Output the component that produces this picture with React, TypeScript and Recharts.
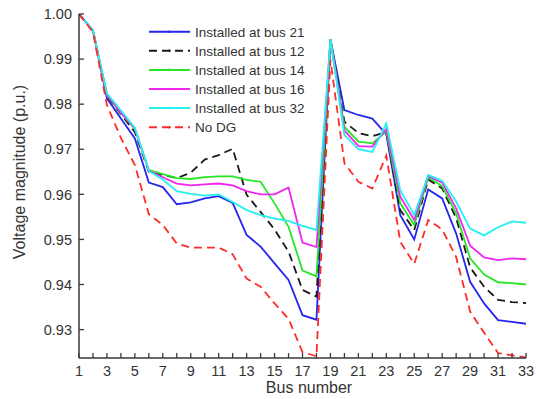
import React from 'react';
import { LineChart, Line, XAxis, YAxis, Legend } from 'recharts';

const buses = [1, 2, 3, 4, 5, 6, 7, 8, 9, 10, 11, 12, 13, 14, 15, 16, 17, 18, 19, 20, 21, 22, 23, 24, 25, 26, 27, 28, 29, 30, 31, 32, 33];

const bus21 = [1.0, 0.9963, 0.9813, 0.9768, 0.9724, 0.9626, 0.9616, 0.9578, 0.9582, 0.9591, 0.9596, 0.9581, 0.9510, 0.9484, 0.9447, 0.9410, 0.9332, 0.9322, 0.9944, 0.9787, 0.9776, 0.9768, 0.9733, 0.9554, 0.9500, 0.9611, 0.9591, 0.9513, 0.9406, 0.9358, 0.9321, 0.9317, 0.9313];
const bus12 = [1.0, 0.9963, 0.9818, 0.9778, 0.9738, 0.9650, 0.9643, 0.9636, 0.9648, 0.9677, 0.9687, 0.9701, 0.9599, 0.9561, 0.9522, 0.9473, 0.9388, 0.9373, 0.9944, 0.9761, 0.9736, 0.9729, 0.9738, 0.9565, 0.9521, 0.9633, 0.9613, 0.9547, 0.9438, 0.9395, 0.9366, 0.9361, 0.9359];
const bus14 = [1.0, 0.9963, 0.9820, 0.9780, 0.9745, 0.9654, 0.9645, 0.9636, 0.9634, 0.9638, 0.9640, 0.9640, 0.9632, 0.9628, 0.9580, 0.9528, 0.9431, 0.9418, 0.9944, 0.9750, 0.9717, 0.9713, 0.9740, 0.9580, 0.9532, 0.9638, 0.9618, 0.9558, 0.9458, 0.9422, 0.9405, 0.9403, 0.9400];
const bus16 = [1.0, 0.9963, 0.9821, 0.9781, 0.9746, 0.9652, 0.9638, 0.9624, 0.9620, 0.9622, 0.9624, 0.9620, 0.9607, 0.9600, 0.9600, 0.9615, 0.9493, 0.9483, 0.9944, 0.9742, 0.9707, 0.9706, 0.9745, 0.9595, 0.9543, 0.9641, 0.9626, 0.9569, 0.9486, 0.9460, 0.9454, 0.9458, 0.9456];
const bus32 = [1.0, 0.9964, 0.9824, 0.9786, 0.9748, 0.9652, 0.9633, 0.9607, 0.9601, 0.9597, 0.9600, 0.9583, 0.9565, 0.9554, 0.9546, 0.9541, 0.9530, 0.9521, 0.9944, 0.9732, 0.9700, 0.9694, 0.9757, 0.9609, 0.9554, 0.9643, 0.9630, 0.9584, 0.9524, 0.9509, 0.9527, 0.9540, 0.9537];
const noDG = [1.0, 0.9960, 0.9798, 0.9725, 0.9665, 0.9556, 0.9532, 0.9491, 0.9482, 0.9482, 0.9482, 0.9467, 0.9413, 0.9395, 0.9358, 0.9324, 0.9250, 0.9241, 0.9898, 0.9669, 0.9628, 0.9613, 0.9686, 0.9495, 0.9446, 0.9543, 0.9522, 0.9461, 0.9340, 0.9293, 0.9248, 0.9243, 0.9238];

const yTicks = [0.93, 0.94, 0.95, 0.96, 0.97, 0.98, 0.99, 1.0];
const xTickLabels = [1, 3, 5, 7, 9, 11, 13, 15, 17, 19, 21, 23, 25, 27, 29, 31, 33];

const seriesNames = ['Installed at bus 21', 'Installed at bus 12', 'Installed at bus 14', 'Installed at bus 16', 'Installed at bus 32', 'No DG'];

const data = buses.map((b, i) => ({
  bus: b,
  s21: bus21[i],
  s12: bus12[i],
  s14: bus14[i],
  s16: bus16[i],
  s32: bus32[i],
  nodg: noDG[i],
}));

const FONT = '"Liberation Sans", Arial, Helvetica, sans-serif';
const AXIS = '#3a3a3a';
const TEXT = '#333';

const series = [
  { key: 's21', name: seriesNames[0], color: '#2626ee', dash: undefined },
  { key: 's12', name: seriesNames[1], color: '#1a1a1a', dash: '8 5' },
  { key: 's14', name: seriesNames[2], color: '#26e626', dash: undefined },
  { key: 's16', name: seriesNames[3], color: '#f026f0', dash: undefined },
  { key: 's32', name: seriesNames[4], color: '#26f0f0', dash: undefined },
  { key: 'nodg', name: seriesNames[5], color: '#ff2a2a', dash: '8 5' },
];

const BottomTick = (props: any) => {
  const { x, y, payload } = props;
  const show = xTickLabels.includes(payload.value);
  return (
    <g>
      <line x1={x} y1={y} x2={x} y2={y - 5} stroke={AXIS} strokeWidth={1.3} />
      {show && (
        <text x={x} y={y + 18} textAnchor="middle" fontSize={14.5} fontFamily={FONT} fill={TEXT}>
          {payload.value}
        </text>
      )}
    </g>
  );
};

const TopTick = (props: any) => {
  const { x, y } = props;
  return <line x1={x} y1={y} x2={x} y2={y + 5} stroke={AXIS} strokeWidth={1.3} />;
};

const LeftTick = (props: any) => {
  const { x, y, payload } = props;
  return (
    <g>
      <line x1={x} y1={y} x2={x + 5} y2={y} stroke={AXIS} strokeWidth={1.3} />
      <text x={x - 7} y={y} dy="0.36em" textAnchor="end" fontSize={14.5} fontFamily={FONT} fill={TEXT}>
        {Number(payload.value).toFixed(2)}
      </text>
    </g>
  );
};

const RightTick = (props: any) => {
  const { x, y } = props;
  return <line x1={x} y1={y} x2={x - 5} y2={y} stroke={AXIS} strokeWidth={1.3} />;
};

const LegendContent = (props: any) => {
  const { payload } = props;
  const items = [...(payload || [])].sort(
    (a: any, b: any) => seriesNames.indexOf(a.value) - seriesNames.indexOf(b.value)
  );
  return (
    <svg width={175} height={122} style={{ display: 'block', overflow: 'visible' }}>
      {items.map((it: any, i: number) => {
        const cy = 9.7 + i * 19.1;
        const dash = it.payload && it.payload.strokeDasharray;
        return (
          <g key={i}>
            <line x1={4} y1={cy} x2={45} y2={cy} stroke={it.color} strokeWidth={2} strokeDasharray={dash} />
            <circle cx={24.5} cy={cy} r={1.3} fill={it.color} />
            <text x={50} y={cy} dy="0.36em" fontSize={13.5} fontFamily={FONT} fill={TEXT}>
              {it.value}
            </text>
          </g>
        );
      })}
    </svg>
  );
};

export default function App() {
  return (
    <div style={{ position: 'fixed', left: 0, top: 0, width: 537, height: 399, background: '#fff' }}>
      <LineChart width={537} height={399} data={data} margin={{ top: 14, right: 11, left: 19, bottom: 11 }}>
        <XAxis
          dataKey="bus"
          type="number"
          domain={[1, 33]}
          ticks={buses}
          interval={0}
          height={30}
          tickSize={0}
          tickMargin={0}
          tickLine={false}
          axisLine={{ stroke: AXIS, strokeWidth: 1.5 }}
          tick={<BottomTick />}
          label={{
            content: () => (
              <text x={309} y={393} textAnchor="middle" fontSize={16} fontFamily={FONT} fill={TEXT}>
                Bus number
              </text>
            ),
          }}
        />
        <XAxis
          xAxisId="top"
          orientation="top"
          dataKey="bus"
          type="number"
          domain={[1, 33]}
          ticks={buses}
          interval={0}
          height={0}
          tickSize={0}
          tickMargin={0}
          tickLine={false}
          axisLine={{ stroke: AXIS, strokeWidth: 1.5 }}
          tick={<TopTick />}
        />
        <YAxis
          type="number"
          domain={[0.9237, 1.0]}
          ticks={yTicks}
          interval={0}
          allowDataOverflow
          width={60}
          tickSize={0}
          tickMargin={0}
          tickLine={false}
          axisLine={{ stroke: AXIS, strokeWidth: 1.5 }}
          tick={<LeftTick />}
          label={{
            content: () => (
              <text
                x={25}
                y={172}
                textAnchor="middle"
                transform="rotate(-90 25 172)"
                fontSize={16}
                fontFamily={FONT}
                fill={TEXT}
              >
                Voltage magnitude (p.u.)
              </text>
            ),
          }}
        />
        <YAxis
          yAxisId="right"
          orientation="right"
          type="number"
          domain={[0.9237, 1.0]}
          ticks={yTicks}
          interval={0}
          allowDataOverflow
          width={0}
          tickSize={0}
          tickMargin={0}
          tickLine={false}
          axisLine={{ stroke: AXIS, strokeWidth: 1.5 }}
          tick={<RightTick />}
        />
        <Legend
          layout="vertical"
          align="center"
          verticalAlign="middle"
          content={<LegendContent />}
          wrapperStyle={{ left: 145, top: 22, width: 175, height: 122 }}
        />
        {series.map((s) => (
          <Line
            key={s.key}
            type="linear"
            dataKey={s.key}
            name={s.name}
            stroke={s.color}
            strokeWidth={1.8}
            strokeDasharray={s.dash}
            dot={false}
            activeDot={false}
            isAnimationActive={false}
          />
        ))}
      </LineChart>
    </div>
  );
}
